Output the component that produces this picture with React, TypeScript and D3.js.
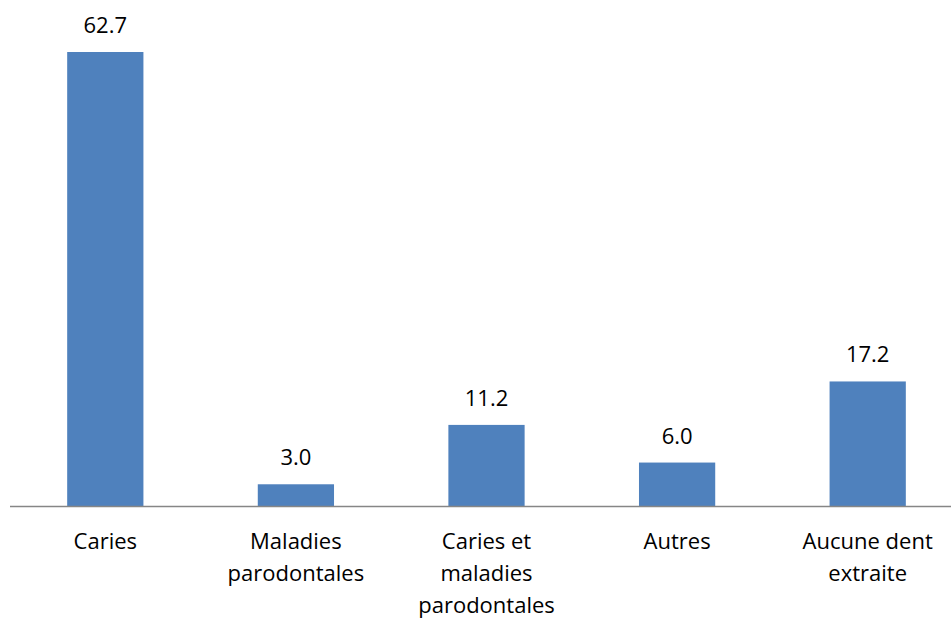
import React from "react";
import * as d3 from "d3";

const categories: string[][] = [
  ["Caries"],
  ["Maladies", "parodontales"],
  ["Caries et", "maladies", "parodontales"],
  ["Autres"],
  ["Aucune dent", "extraite"],
];
const values: number[] = [62.7, 3.0, 11.2, 6.0, 17.2];

const W = 951;
const H = 619;
const baseY = 506;
const FONT = "'Open Sans', sans-serif";
const FS = 22;

export default function App() {
  const ids = categories.map((_, i) => String(i));
  const x = d3.scaleBand<string>().domain(ids).range([10, 963]).paddingInner(0.6).paddingOuter(0.3);
  const y = d3.scaleLinear().domain([0, 62.7]).range([baseY, 52]);

  return (
    <svg width={W} height={H} style={{ position: "absolute", left: 0, top: 0 }}>
      <rect width={W} height={H} fill="#ffffff" />
      {values.map((v, i) => {
        const bx = x(ids[i])!;
        return (
          <g key={i}>
            <rect x={bx} y={y(v)} width={x.bandwidth()} height={baseY - y(v)} fill="#4F81BD" />
            <text
              x={bx + x.bandwidth() / 2}
              y={y(v) - 19}
              textAnchor="middle"
              fontFamily={FONT}
              fontSize={FS}
              fill="#000"
            >
              {v.toFixed(1)}
            </text>
          </g>
        );
      })}
      <line x1={10} x2={W} y1={baseY + 0.5} y2={baseY + 0.5} stroke="#868686" strokeWidth={1.5} />
      {categories.map((lines, i) => (
        <text
          key={i}
          x={x(ids[i])! + x.bandwidth() / 2}
          y={549}
          textAnchor="middle"
          fontFamily={FONT}
          fontSize={FS}
          fill="#000"
        >
          {lines.map((l, j) => (
            <tspan key={j} x={x(ids[i])! + x.bandwidth() / 2} dy={j === 0 ? 0 : 32}>
              {l}
            </tspan>
          ))}
        </text>
      ))}
    </svg>
  );
}
